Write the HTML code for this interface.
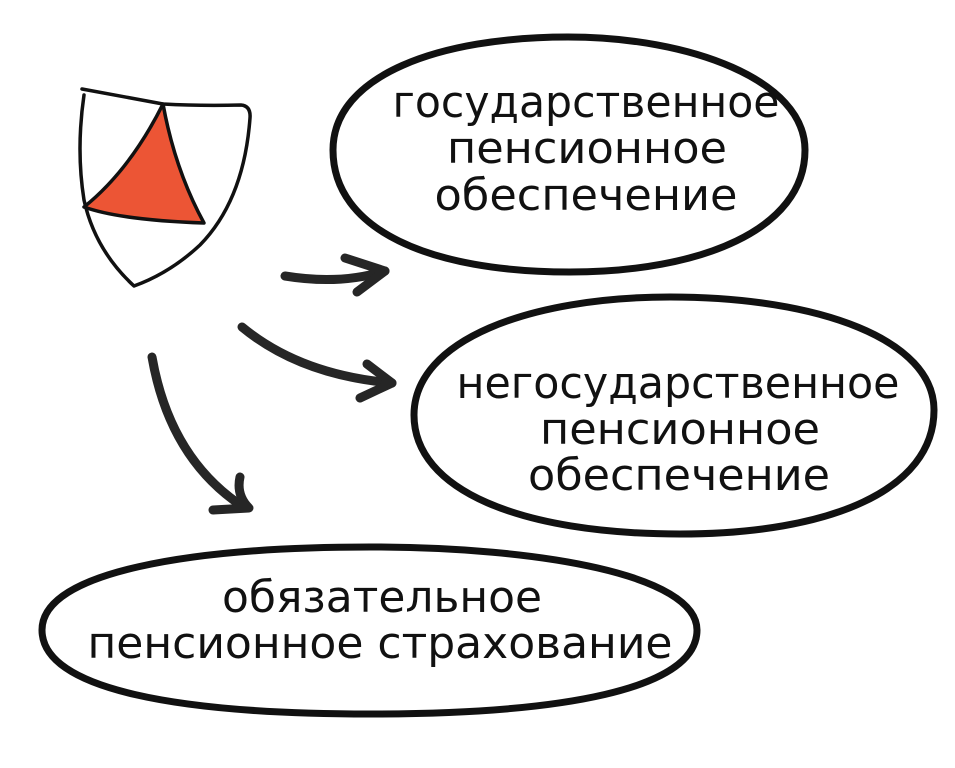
<!DOCTYPE html>
<html><head><meta charset="utf-8"><style>
html,body{margin:0;padding:0;background:#fff;}
svg{display:block}
text{font-family:"DejaVu Sans","Liberation Sans",sans-serif;font-size:44px;fill:#111;text-anchor:middle}
</style></head><body>
<svg width="955" height="768" viewBox="0 0 955 768" xmlns="http://www.w3.org/2000/svg">
<g fill="none" stroke="#111" stroke-linecap="round" stroke-linejoin="round">
<path d="M82 89 Q120 96 163 104 Q200 106 241 105 Q251 106 250 118 Q244 200 200 245 Q170 273 134 286 Q95 250 84 200 Q76 150 84 95" stroke-width="3.5"/>
<path d="M163 104 Q130 170 84 207 Q120 220 204 223 Q175 170 163 104 Z" fill="#ec5535" stroke-width="3.5"/>
<g stroke="#262626" stroke-width="9">
<path d="M285 276 Q340 285 385 271"/>
<path d="M345 258 L385 271 L357 292"/>
<path d="M242 327 Q300 375 392 383"/>
<path d="M367 364 L392 383 L360 398"/>
<path d="M152 357 Q170 460 245 508"/>
<path d="M240 477 Q236 495 249 508 L213 510"/>
</g>
<g stroke="#111" stroke-width="7">
<path d="M568 37 C690 37 805 80 805 150 C805 230 700 272 570 272 C430 272 333 230 333 150 C333 75 440 37 568 37 Z"/>
<path d="M670 297 C820 297 934 340 934 410 C934 490 830 534 680 534 C520 534 414 490 414 415 C414 340 530 297 670 297 Z"/>
<path d="M370 547 C540 547 697 575 697 630 C697 690 560 714 370 714 C180 714 42 690 42 630 C42 572 190 547 370 547 Z"/>
</g>
</g>
<text x="586" y="117" textLength="387" lengthAdjust="spacingAndGlyphs">государственное</text>
<text x="587" y="163" textLength="280" lengthAdjust="spacingAndGlyphs">пенсионное</text>
<text x="586" y="210" textLength="303" lengthAdjust="spacingAndGlyphs">обеспечение</text>
<text x="678" y="398" textLength="443" lengthAdjust="spacingAndGlyphs">негосударственное</text>
<text x="680" y="444" textLength="280" lengthAdjust="spacingAndGlyphs">пенсионное</text>
<text x="679" y="490" textLength="302" lengthAdjust="spacingAndGlyphs">обеспечение</text>
<text x="382" y="612" textLength="320" lengthAdjust="spacingAndGlyphs">обязательное</text>
<text x="380" y="658" textLength="585" lengthAdjust="spacingAndGlyphs">пенсионное страхование</text>
</svg>
</body></html>
